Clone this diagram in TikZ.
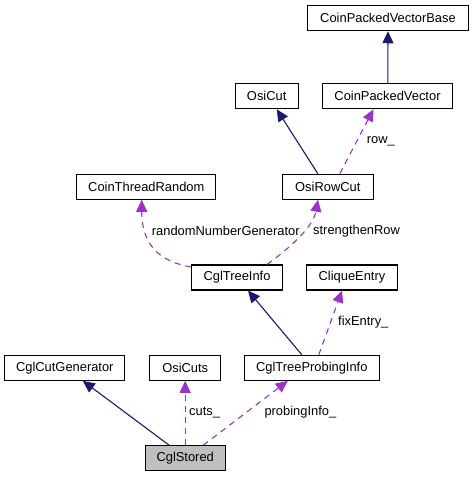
\documentclass[tikz,border=0pt]{standalone}
\usepackage{fontspec}
\setmainfont{Liberation Sans}
\usetikzlibrary{arrows.meta}
\definecolor{inh}{RGB}{25,25,112}
\definecolor{use}{RGB}{154,50,205}
\tikzset{
  cls/.style={draw=black, line width=1.1pt, fill=white, minimum height=25pt, inner sep=0pt, font=\fontsize{12.9}{15}\selectfont},
  inhedge/.style={draw=inh, line width=1.1pt, -{Triangle[length=12pt,width=11pt]}},
  useedge/.style={draw=use, line width=1.1pt, dash pattern=on 6pt off 5pt, -{Triangle[length=12pt,width=11pt,fill=use]}},
  lbl/.style={anchor=west, inner sep=0pt, font=\fontsize{12.9}{15}\selectfont}
}
\begin{document}
\begin{tikzpicture}[x=1pt,y=-1pt]
\useasboundingbox (0,0) rectangle (473,477);
\node[cls, minimum width=161pt] (base) at (388,18.2) {CoinPackedVectorBase};
\node[cls, minimum width=63pt] (osicut) at (266.7,96.2) {OsiCut};
\node[cls, minimum width=130pt] (cpv) at (387.5,96.2) {CoinPackedVector};
\node[cls, minimum width=139pt] (ctr) at (146.3,186.7) {CoinThreadRandom};
\node[cls, minimum width=91pt] (orc) at (327.8,186.7) {OsiRowCut};
\node[cls, minimum width=90.5pt] (cti) at (237,277.5) {CglTreeInfo};
\node[cls, minimum width=90.5pt] (clq) at (352,277.5) {CliqueEntry};
\node[cls, minimum width=120pt] (ccg) at (64.8,367.8) {CglCutGenerator};
\node[cls, minimum width=71pt] (ocs) at (185.2,367.8) {OsiCuts};
\node[cls, minimum width=135pt] (tpi) at (311.8,367.8) {CglTreeProbingInfo};
\node[cls, minimum width=80pt, fill={rgb,255:red,191;green,191;blue,191}] (cs) at (185.2,458.3) {CglStored};

% inheritance
\draw[inhedge] ([xshift=-16pt]cs.north) -- ([xshift=18pt]ccg.south);
\draw[inhedge] ([xshift=-10pt]tpi.north) -- ([xshift=11pt]cti.south);
\draw[inhedge] ([xshift=-10pt]orc.north) -- ([xshift=10pt]osicut.south);
\draw[inhedge] ([xshift=0.3pt]cpv.north) -- (base.south);

% usage
\draw[useedge] (cs.north) -- (ocs.south);
\node[lbl] (lcuts) at (189,412.3) {cuts\_};
\draw[useedge] ([xshift=18pt]cs.north) -- ([xshift=-24pt]tpi.south);
\node[lbl] (lprob) at (264.3,412.3) {probingInfo\_};
\draw[useedge] ([xshift=7pt]tpi.north) -- ([xshift=-10pt]clq.south);
\node[lbl] (lfix) at (338,322.3) {fixEntry\_};
\draw[useedge] ([yshift=-2.5pt]cti.north west) .. controls (160,262) and (141.7,245) .. ([xshift=-4.6pt]ctr.south);
\node[lbl] (lrng) at (151.7,230.7) {randomNumberGenerator};
\draw[useedge] ([xshift=30pt]cti.north) .. controls (287,250) and (313,228) .. ([xshift=-9.8pt]orc.south);
\node[lbl] (lsr) at (313,230.7) {strengthenRow};
\draw[useedge] ([xshift=12pt]orc.north) -- ([xshift=-14pt]cpv.south);
\node[lbl] (lrow) at (366.7,141) {row\_};
\end{tikzpicture}
\end{document}
